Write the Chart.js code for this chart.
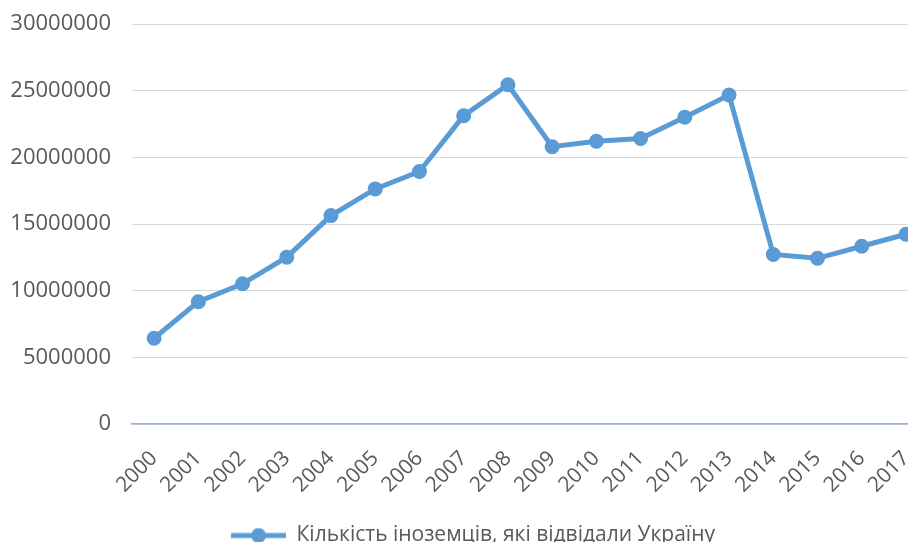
<!DOCTYPE html>
<html>
<head>
<meta charset="utf-8">
<script src="https://cdn.jsdelivr.net/npm/chart.js@4.4.0/dist/chart.umd.min.js"></script>
<style>
  html, body { margin: 0; padding: 0; background: #fff; overflow: hidden; }
  #wrap { width: 946px; height: 556px; }
</style>
</head>
<body>
<div id="wrap"><canvas id="chart"></canvas></div>
<script>
const years = ['2000', '2001', '2002', '2003', '2004', '2005', '2006', '2007', '2008',
               '2009', '2010', '2011', '2012', '2013', '2014', '2015', '2016', '2017'];
const visitors = [6431000, 9174000, 10517000, 12514000, 15629000, 17631000, 18936000, 23122000, 25449000,
                  20798000, 21203000, 21415000, 23013000, 24671000, 12712000, 12428000, 13333000, 14230000];
const seriesName = 'Кількість іноземців, які відвідали Україну';
const yTicks = [0, 5000000, 10000000, 15000000, 20000000, 25000000, 30000000];

const blue = '#5B9BD5';
const textGrey = '#595959';

// legend marker: short line with a dot in the middle
const marker = document.createElement('canvas');
marker.width = 55;
marker.height = 16;
const mctx = marker.getContext('2d');
mctx.strokeStyle = blue;
mctx.lineWidth = 5;
mctx.beginPath();
mctx.moveTo(0, 8);
mctx.lineTo(55, 8);
mctx.stroke();
mctx.fillStyle = blue;
mctx.beginPath();
mctx.arc(27.5, 8, 7.5, 0, Math.PI * 2);
mctx.fill();

const ctx = document.getElementById('chart').getContext('2d');
new Chart(ctx, {
  type: 'line',
  data: {
    labels: years,
    datasets: [{
      label: seriesName,
      data: visitors,
      borderColor: blue,
      backgroundColor: blue,
      borderWidth: 5,
      pointRadius: 6.5,
      pointBorderWidth: 2,
      pointBackgroundColor: blue,
      pointBorderColor: blue,
      tension: 0
    }]
  },
  options: {
    responsive: true,
    maintainAspectRatio: false,
    animation: false,
    layout: { padding: { top: 24, right: 0, left: 0, bottom: 0 } },
    plugins: {
      tooltip: { enabled: false },
      legend: {
        position: 'bottom',
        labels: {
          usePointStyle: true,
          pointStyleWidth: 55,
          padding: 10,
          color: textGrey,
          font: { family: 'Open Sans', size: 21 },
          generateLabels: chart => [{
            text: seriesName,
            pointStyle: marker,
            fontColor: textGrey,
            strokeStyle: blue,
            fillStyle: blue,
            lineWidth: 0,
            datasetIndex: 0
          }]
        }
      }
    },
    scales: {
      x: {
        offset: true,
        grid: { display: false, drawTicks: false },
        border: { display: true, color: '#8EB4E3', width: 1.5 },
        ticks: {
          minRotation: 45,
          maxRotation: 45,
          padding: 22,
          color: textGrey,
          font: { family: 'Open Sans', size: 21 }
        },
        afterFit: scale => { scale.height = 91; }
      },
      y: {
        min: 0,
        max: 30000000,
        afterBuildTicks: scale => { scale.ticks = yTicks.map(v => ({ value: v })); },
        grid: { color: '#D9D9D9', lineWidth: 1, drawTicks: false },
        border: { display: false },
        ticks: {
          padding: 21,
          color: textGrey,
          font: { family: 'Open Sans', size: 22 },
          callback: v => String(v)
        },
        afterFit: scale => {
          scale.width = 132;
          scale.paddingTop = 0;
          scale.paddingBottom = 0;
        }
      }
    }
  }
});
</script>
</body>
</html>
